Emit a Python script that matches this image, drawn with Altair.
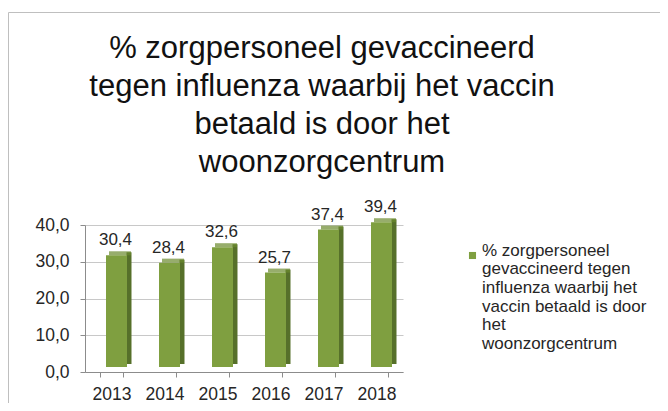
import altair as alt
import pandas as pd

years = ["2013", "2014", "2015", "2016", "2017", "2018"]
values = [30.4, 28.4, 32.6, 25.7, 37.4, 39.4]
series = "% zorgpersoneel\ngevaccineerd tegen\ninfluenza waarbij het\nvaccin betaald is door\nhet\nwoonzorgcentrum"
title_lines = ["% zorgpersoneel gevaccineerd", "tegen influenza waarbij het vaccin",
               "betaald is door het", "woonzorgcentrum"]

df = pd.DataFrame({"year": years, "value": values, "series": [series] * len(years)})

FONT = "Liberation Sans"
GREEN = "#7f9f40"
SIDE = "#56702a"
TOP = "#6b8a2e"

x = alt.X("year:N", title=None, sort=years,
          scale=alt.Scale(paddingInner=0.58, paddingOuter=0.29),
          axis=alt.Axis(labelAngle=0, labelFontSize=17.5, labelColor="#262626", labelFont=FONT,
                        domainColor="#8c8c8c", tickColor="#8c8c8c", tickBand="extent",
                        tickSize=5, labelPadding=8))
y = alt.Y("value:Q", title=None,
          scale=alt.Scale(domain=[0, 40]),
          axis=alt.Axis(values=[0, 10, 20, 30, 40], labelExpr="replace(format(datum.value, '.1f'), '.', ',')",
                        labelFontSize=17.5, labelColor="#262626", labelFont=FONT,
                        domainColor="#8c8c8c", tickColor="#8c8c8c", tickSize=5,
                        gridColor="#c8c8c8", labelPadding=11))

base = alt.Chart(df)

side = base.mark_bar(color=SIDE, width=5, xOffset=17.5, yOffset=-8).encode(x=x, y=y)
front = base.mark_bar(width=21, xOffset=5, yOffset=-5).encode(
    x=x, y=y,
    color=alt.Color("series:N", scale=alt.Scale(range=[GREEN]),
                    legend=alt.Legend(title=None, orient="none", legendX=379, legendY=22,
                                      symbolType="square", symbolSize=50, symbolStrokeWidth=0,
                                      labelFontSize=17, labelFont=FONT, labelColor="#262626",
                                      labelLimit=0, labelBaseline="alphabetic", labelOffset=1,
                                      labelExpr="split(datum.label, '\\n')")))
top = base.mark_tick(color=TOP, thickness=4, size=22, xOffset=8.5, yOffset=-7, orient="horizontal").encode(
    x=x, y=y)
labels = base.mark_text(dy=-15, dx=4, baseline="alphabetic", fontSize=17, font=FONT, color="#262626").encode(
    x=x, y=y, text=alt.Text("label:N")).transform_calculate(
    label="replace(format(datum.value, '.1f'), '.', ',')")

border = alt.Chart(alt.Data(values=[{}])).mark_rect(fill=None, stroke="#bfbfbf", strokeWidth=1).encode(
    x=alt.value(-76.5), y=alt.value(-212.5), x2=alt.value(700), y2=alt.value(400))

chart = alt.layer(border, side, top, front, labels).properties(
    width=318, height=147,
    title=alt.Title(title_lines, fontSize=31, font=FONT, fontWeight="normal", color="#111111",
                    anchor="middle", dx=78, dy=167, offset=0, lineHeight=38),
    padding={"left": 77, "top": 217, "right": 257, "bottom": 31},
    autosize=alt.AutoSizeParams(type="none"),
).configure(style={"guide-label": {"lineHeight": 18.7}}).configure_view(strokeWidth=0)

chart.save("out.html", embed_options={"renderer": "svg", "actions": False})
